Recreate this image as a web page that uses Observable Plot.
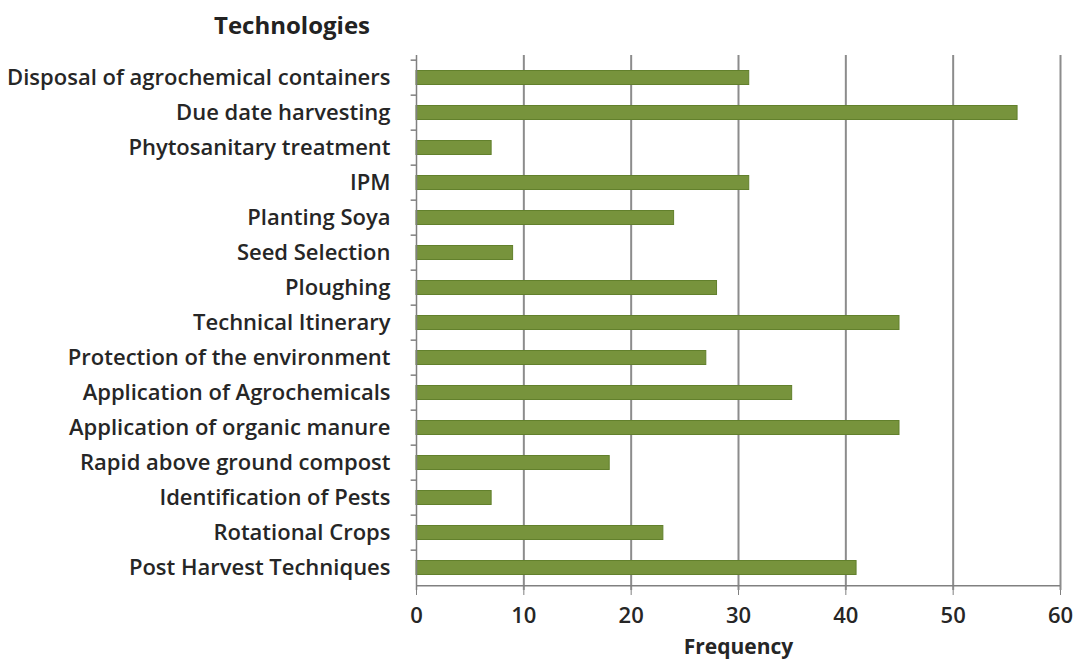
<!DOCTYPE html>
<html><head><meta charset="utf-8">
<script src="https://cdn.jsdelivr.net/npm/d3@7"></script>
<script src="https://cdn.jsdelivr.net/npm/@observablehq/plot@0.6"></script>
<style>
body{margin:0;background:#fff;font-family:"Open Sans",sans-serif;}
#wrap{position:relative;width:1076px;height:659px;}
#title{position:absolute;left:214px;top:12px;line-height:26px;font-size:24px;font-weight:bold;color:#222;}
</style></head>
<body><div id="wrap"><div id="title">Technologies</div></div>
<script>
const categories = [
  "Disposal of agrochemical containers",
  "Due date harvesting",
  "Phytosanitary treatment",
  "IPM",
  "Planting Soya",
  "Seed Selection",
  "Ploughing",
  "Technical Itinerary",
  "Protection of the environment",
  "Application of Agrochemicals",
  "Application of organic manure",
  "Rapid above ground compost",
  "Identification of Pests",
  "Rotational Crops",
  "Post Harvest Techniques"
];
const frequency = [31, 56, 7, 31, 24, 9, 28, 45, 27, 35, 45, 18, 7, 23, 41];
const xTicks = [0, 10, 20, 30, 40, 50, 60];
const gridTicks = [10, 20, 30, 40, 50, 60];

const data = categories.map((c, i) => ({tech: c, freq: frequency[i]}));

const W = 1076, H = 659, mt = 55, mb = 69, ml = 416, mr = 16;
const band = (H - mt - mb) / categories.length;
const last = categories[categories.length - 1];

const chart = Plot.plot({
  width: W, height: H,
  marginTop: mt, marginBottom: mb, marginLeft: ml, marginRight: mr,
  style: {fontFamily: "Open Sans, sans-serif", fontSize: "22px", fontWeight: 600, color: "#262626", background: "transparent"},
  x: {domain: [0, 60], ticks: xTicks, label: null},
  y: {domain: categories, padding: 0, label: null},
  marks: [
    Plot.ruleX(gridTicks, {stroke: "#8c8c8c", strokeWidth: 2}),
    Plot.barX(data, {y: "tech", x: "freq", fill: "#77933c", stroke: "#62802c", strokeWidth: 1, insetTop: 10.5, insetBottom: 10.5}),
    Plot.ruleX([0], {stroke: "#808080", strokeWidth: 1.5}),
    Plot.ruleY([last], {x1: 0, x2: 60, dy: band / 2, stroke: "#808080", strokeWidth: 1.5}),
    Plot.ruleY(categories, {y: d => d, x1: 0, x2: -0.5, dy: -band / 2, stroke: "#808080", strokeWidth: 1.5}),
    Plot.axisX(xTicks, {tickSize: 5, tickPadding: 12, stroke: "#808080", fill: "#262626", label: null}),
    Plot.axisY({tickSize: 0, tickPadding: 26, fill: "#262626", label: null}),
    Plot.text(["Frequency"], {frameAnchor: "bottom", dy: 57, fontSize: 21, fontWeight: "bold", fill: "#262626", lineAnchor: "middle"})
  ]
});
chart.style.position = "absolute";
chart.style.left = "0"; chart.style.top = "0";
document.getElementById("wrap").appendChild(chart);
</script>
</body></html>
